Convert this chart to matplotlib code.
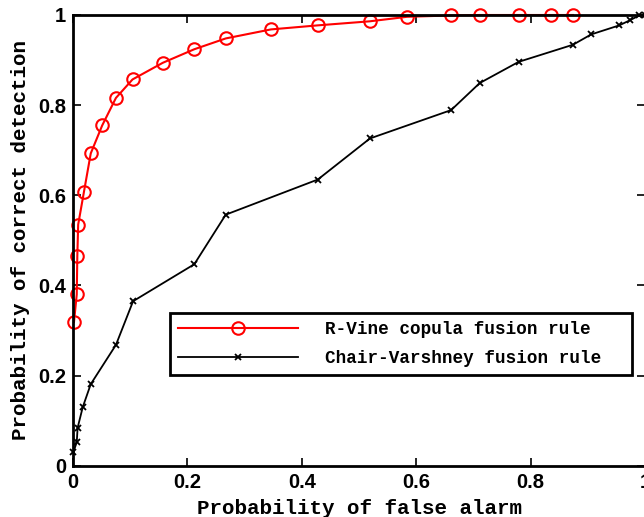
import matplotlib
matplotlib.use('Agg')
import matplotlib.pyplot as plt

# ROC points
pfa_rvine = [0.0017, 0.0065, 0.0075, 0.009, 0.019, 0.031, 0.051, 0.075, 0.104, 0.157,
             0.212, 0.267, 0.346, 0.428, 0.519, 0.584, 0.661, 0.711, 0.779, 0.836, 0.874]
pd_rvine = [0.319, 0.38, 0.465, 0.535, 0.607, 0.693, 0.755, 0.816, 0.857, 0.894,
            0.924, 0.948, 0.968, 0.977, 0.986, 0.996, 0.999, 1.0, 1.0, 1.0, 1.0]

pfa_cv = [0.0005, 0.0065, 0.008, 0.017, 0.031, 0.075, 0.105, 0.212, 0.267, 0.428,
          0.519, 0.661, 0.711, 0.779, 0.874, 0.906, 0.955, 0.973, 0.990, 1.0]
pd_cv = [0.03, 0.052, 0.084, 0.13, 0.181, 0.268, 0.365, 0.447, 0.557, 0.635,
         0.726, 0.789, 0.849, 0.896, 0.934, 0.957, 0.977, 0.988, 0.999, 1.0]

xticks = [0, 0.2, 0.4, 0.6, 0.8, 1]
yticks = [0, 0.2, 0.4, 0.6, 0.8, 1]
xtick_labels = ['0', '0.2', '0.4', '0.6', '0.8', '1']
ytick_labels = ['0', '0.2', '0.4', '0.6', '0.8', '1']

fig = plt.figure(figsize=(6.44, 5.17), dpi=100)
ax = fig.add_axes([0.1134, 0.0992, 0.8882, 0.8718])

ax.plot(pfa_rvine, pd_rvine, color='red', lw=1.5, marker='o', ms=9,
        mfc='none', mec='red', mew=1.5, label='R-Vine copula fusion rule', clip_on=False)
ax.plot(pfa_cv, pd_cv, color='black', lw=1.3, marker='x', ms=4.5,
        mew=1.3, label='Chair-Varshney fusion rule', clip_on=False)

ax.set_xlim(0, 1)
ax.set_ylim(0, 1)
ax.set_xticks(xticks)
ax.set_xticklabels(xtick_labels)
ax.set_yticks(yticks)
ax.set_yticklabels(ytick_labels)
ax.tick_params(direction='in', top=True, right=True, length=6, width=1.2,
               labelsize=14.5, pad=5)
for lab in ax.get_xticklabels() + ax.get_yticklabels():
    lab.set_fontweight('bold')
    lab.set_family('Liberation Sans')
for sp in ax.spines.values():
    sp.set_linewidth(2)

ax.set_xlabel('Probability of false alarm', family='Liberation Mono',
              fontweight='bold', fontsize=15, labelpad=5)
ax.set_ylabel('Probability of correct detection', family='Liberation Mono',
              fontweight='bold', fontsize=15, labelpad=6)

leg = ax.legend(loc='center', bbox_to_anchor=(0.170, 0.201, 0.807, 0.137),
                mode='expand', borderaxespad=0, fancybox=False, edgecolor='black',
                framealpha=1, handlelength=6.8, handletextpad=1.5,
                borderpad=0.45, labelspacing=0.7,
                prop={'family': 'Liberation Mono', 'weight': 'bold', 'size': 12.7})
leg.get_frame().set_linewidth(2)

fig.savefig('out.png', dpi=100)
